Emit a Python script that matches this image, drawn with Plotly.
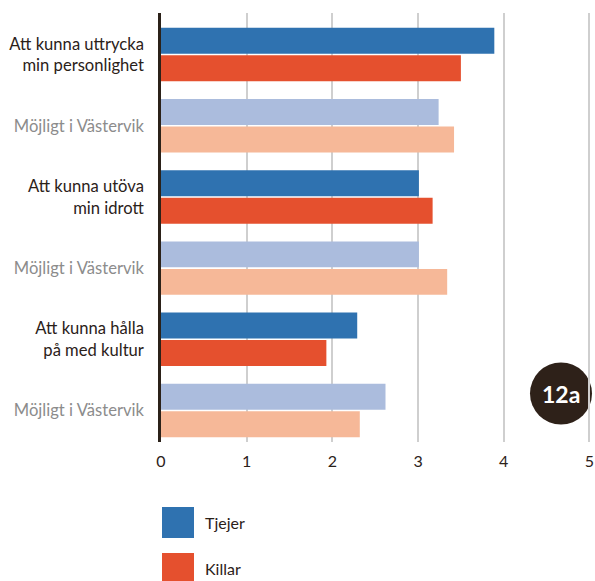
import plotly.graph_objects as go

categories = ["Att kunna uttrycka<br>min personlighet", "Möjligt i Västervik",
              "Att kunna utöva<br>min idrott", "Möjligt i Västervik",
              "Att kunna hålla<br>på med kultur", "Möjligt i Västervik"]
is_possible = [False, True, False, True, False, True]
tjejer = [3.89, 3.24, 3.01, 3.01, 2.29, 2.62]
killar = [3.50, 3.42, 3.17, 3.34, 1.93, 2.32]
x_ticks = [0, 1, 2, 3, 4, 5]
series_names = ["Tjejer", "Killar"]

DARK = "#2b2119"
GRAY = "#8c8c8c"
BLUE, LBLUE = "#2f72b0", "#abbcdd"
RED, LRED = "#e5502e", "#f6b898"

pos = list(range(len(categories)))
ticktext = [f"<span style='color:{GRAY if p else DARK}'>{c}</span>" for c, p in zip(categories, is_possible)]

fig = go.Figure()
fig.add_trace(go.Bar(y=pos, x=tjejer, orientation="h", name=series_names[0],
                     marker=dict(color=[LBLUE if p else BLUE for p in is_possible], line=dict(width=0)),
                     showlegend=False, hoverinfo="x+name"))
fig.add_trace(go.Bar(y=pos, x=killar, orientation="h", name=series_names[1],
                     marker=dict(color=[LRED if p else RED for p in is_possible], line=dict(width=0)),
                     showlegend=False, hoverinfo="x+name"))

FONT = "Lato"
XMAX = 5.03
UNIT = 85.7
PL, PT, PW, PH = 161, 13, round(XMAX * UNIT), 429
fig.update_layout(
    width=595, height=581,
    margin=dict(l=PL, r=595 - PL - PW, t=PT, b=581 - PT - PH, autoexpand=False),
    paper_bgcolor="white", plot_bgcolor="white",
    barmode="group", bargap=0.228, bargroupgap=0.055,
    font=dict(family=FONT, size=15, color=DARK),
    xaxis=dict(range=[0, XMAX], tickvals=x_ticks, ticktext=[str(t) for t in x_ticks],
               showgrid=True, gridcolor="#cfcfcf", gridwidth=1.5,
               zeroline=False, showline=False, ticks="", automargin=False,
               tickfont=dict(family=FONT, size=16, color=DARK), ticklabelstandoff=8),
    yaxis=dict(range=[5.442, -0.583], tickvals=pos, ticktext=ticktext,
               showgrid=False, zeroline=False, showline=True, linecolor=DARK, linewidth=2.5,
               ticks="", ticklabelstandoff=11, automargin=False,
               tickfont=dict(family=FONT, size=16.6, color=DARK)),
)

def px_x(px):
    return (px - PL) / PW

def px_y(py):
    return 1 - (py - PT) / PH

# badge
fig.add_shape(type="circle", xref="paper", yref="paper",
              xsizemode="pixel", ysizemode="pixel",
              xanchor=px_x(561), yanchor=px_y(393.5),
              x0=-31, x1=31, y0=-31, y1=31,
              fillcolor="#2e2119", line=dict(width=0), layer="between")
fig.add_annotation(xref="paper", yref="paper", x=px_x(561), y=px_y(393.5),
                   xanchor="center", yanchor="middle",
                   text="<b>12a</b>", showarrow=False,
                   font=dict(family=FONT, size=23, color="white"))

# legend
legend_colors = [BLUE, RED]
for i, (name, col) in enumerate(zip(series_names, legend_colors)):
    top = 507 + i * 46
    fig.add_shape(type="rect", xref="paper", yref="paper",
                  x0=px_x(162), x1=px_x(194),
                  y0=px_y(top), y1=px_y(top + 31),
                  fillcolor=col, line=dict(width=0))
    fig.add_annotation(xref="paper", yref="paper", x=px_x(203),
                       y=px_y(top + 15), xanchor="left", yanchor="middle",
                       text=name, showarrow=False,
                       font=dict(family=FONT, size=16, color=DARK))

fig.write_html("out.html", config={"displayModeBar": False},
               post_script="document.body.style.margin='0px';document.body.style.padding='0px';document.body.style.overflow='hidden';")
